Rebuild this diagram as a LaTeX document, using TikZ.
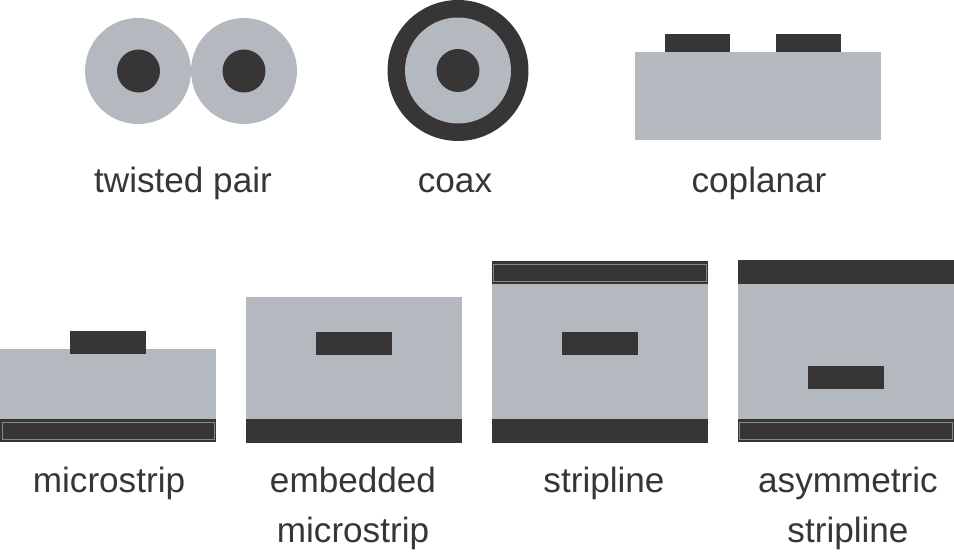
\documentclass[tikz,border=0pt]{standalone}
\usepackage{fontspec}
\setmainfont{Liberation Sans}

\definecolor{dielectric}{HTML}{B4B9C0}
\definecolor{metal}{HTML}{373536}

\tikzstyle{wire} = [circle,fill=metal,inner sep=0,minimum size=.86cm]
\tikzstyle{jacket} = [circle,fill=dielectric,inner sep=0,minimum size=2.12cm]
\tikzstyle{shield} = [circle,fill=metal,inner sep=0,minimum size=2.82cm]
\tikzstyle{board} = [rectangle,fill=dielectric,inner sep=0]
\tikzstyle{plane} = [rectangle,fill=metal,inner sep=0,minimum height=.47cm]
\tikzstyle{trace} = [rectangle,fill=metal,inner sep=0,minimum width=1.51cm,minimum height=.46cm]
\tikzstyle{sheen} = [rectangle,draw=metal!60!white,line width=.3pt,inner sep=0,minimum height=.34cm]
\tikzstyle{caption} = [text=metal,align=center,font=\fontsize{20}{28.6}\selectfont]

\begin{document}
\begin{tikzpicture}[x=.02cm,y=.02cm]
\useasboundingbox (0,0) rectangle (954,554);

% round lines
\node[jacket] (p1) at (138,483) {};
\node[jacket] (p2) at (244,483) {};
\node[wire] (w1) at (138.5,483) {};
\node[wire] (w2) at (244,483) {};

\node[shield] (s) at (458,483.5) {};
\node[jacket] (j) at (458,483.5) {};
\node[wire] (w3) at (458,483.5) {};

% coplanar
\node[board,minimum width=4.92cm,minimum height=1.76cm] (cb) at (758,458) {};
\node[trace,minimum width=1.3cm,minimum height=.36cm] (c1) at (697.5,511) {};
\node[trace,minimum width=1.3cm,minimum height=.36cm] (c2) at (808.5,511) {};

% microstrip
\node[board,minimum width=4.32cm,minimum height=1.41cm] (mb) at (108,170.25) {};
\node[plane,minimum width=4.32cm] (mg) at (108,123.5) {};
\node[sheen,minimum width=4.24cm] (mi) at (108,123.5) {};
\node[trace] (mt) at (108,211.5) {};

% embedded microstrip
\node[board,minimum width=4.34cm,minimum height=2.44cm] (eb) at (354,196) {};
\node[plane,minimum width=4.34cm] (eg) at (354,123) {};
\node[trace] (et) at (354,210.5) {};

% stripline
\node[board,minimum width=4.34cm,minimum height=2.7cm] (sb) at (600,202.5) {};
\node[plane,minimum width=4.34cm] (sp) at (600,281.5) {};
\node[sheen,minimum width=4.26cm] (si) at (600,281.5) {};
\node[plane,minimum width=4.34cm] (sg) at (600,123) {};
\node[trace] (st) at (600,210.5) {};

% asymmetric stripline
\node[board,minimum width=4.33cm,minimum height=2.72cm] (ab) at (845.75,203) {};
\node[plane,minimum width=4.33cm] (ap) at (845.75,282) {};
\node[plane,minimum width=4.33cm] (ag) at (845.75,123.5) {};
\node[sheen,minimum width=4.25cm] (ai) at (845.75,123.5) {};
\node[trace] (at) at (846,176.25) {};

% labels
\node[caption,anchor=base] (l1) at (183,361) {twisted pair};
\node[caption,anchor=base] (l2) at (455,361) {coax};
\node[caption,anchor=base] (l3) at (759,361) {coplanar};
\node[caption,anchor=base] (l4) at (109,61) {microstrip};
\node[caption] (l5) at (353,45.5) {embedded\\microstrip};
\node[caption,anchor=base] (l6) at (604,61) {stripline};
\node[caption] (l7) at (848,45.5) {asymmetric\\stripline};

\end{tikzpicture}
\end{document}
